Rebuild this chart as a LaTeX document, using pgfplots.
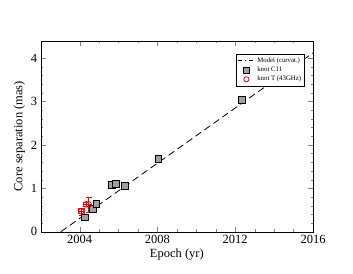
\documentclass[border=0pt]{standalone}
\usepackage{pgfplots}
\pgfplotsset{compat=1.18}
\usepackage{fontspec}
\setmainfont{Liberation Serif}
\begin{document}
\begin{tikzpicture}
\useasboundingbox (-40.7pt,-41.3pt) rectangle (312.3pt,231.7pt);
\begin{axis}[
  at={(0pt,0pt)}, anchor=south west,
  scale only axis, width=272.3pt, height=191pt,
  xmin=2002, xmax=2016, ymin=0, ymax=4.4,
  xtick={2004,2008,2012,2016}, ytick={0,1,2,3,4},
  minor x tick num=3, minor y tick num=4,
  tick align=inside, xtick pos=both, ytick pos=both,
  major tick length=5pt, minor tick length=2.5pt,
  /pgf/number format/assume math mode=true,
  xticklabel style={/pgf/number format/1000 sep={}},
  ticklabel style={font=\fontsize{12.5}{13}\selectfont},
  xlabel={Epoch (yr)}, ylabel={Core separation (mas)},
  label style={font=\fontsize{12.5}{14}\selectfont},
  xlabel style={yshift=2pt}, ylabel style={yshift=-1pt},
  legend style={at={(0.97,0.93)}, anchor=north east, font=\fontsize{6.8}{7.5}\selectfont,
     draw=black, line width=0.4pt, inner sep=1.5pt, row sep=-1pt},
  legend cell align=left,
]
\addplot[black, dash pattern=on 7pt off 4pt, line width=0.8pt, forget plot] coordinates {(2003.04,0) (2016,4.12)};
\addplot[only marks, mark=square*, mark size=3.4pt, mark options={fill=gray!75, draw=black, line width=0.8pt}, forget plot,
  error bars/.cd, y dir=both, y explicit, error bar style={white, line width=0.4pt}, error mark options={draw=none}]
  coordinates {
  (2004.28,0.33) +- (0,0.03)
  (2004.67,0.52) +- (0,0.03)
  (2004.86,0.64) +- (0,0.03)
  (2005.65,1.07) +- (0,0.03)
  (2005.87,1.10) +- (0,0.03)
  (2006.33,1.06) +- (0,0.03)
  (2008.05,1.68) +- (0,0.03)
  (2012.35,3.03) +- (0,0.03)
};
\addplot[only marks, mark=o, red, mark size=2.8pt, mark options={line width=0.8pt}, forget plot,
  error bars/.cd, y dir=both, y explicit, x dir=both, x explicit, error bar style={red, line width=0.5pt}]
  coordinates {
  (2004.09,0.47) +- (0.15,0.08)
  (2004.33,0.63) +- (0.0,0.05)
  (2004.47,0.63) +- (0.0,0.17)
};
\addlegendimage{black, dash pattern=on 4pt off 3pt on 1pt off 3pt, line width=0.8pt}
\addlegendentry{Model (curvat.)}
\addlegendimage{only marks, mark=square*, mark size=3pt, mark options={fill=gray!75, draw=black, line width=0.8pt}}
\addlegendentry{knot C11}
\addlegendimage{only marks, mark=o, red, mark size=2.6pt, mark options={line width=0.8pt}}
\addlegendentry{knot T (43GHz)}
\end{axis}
\end{tikzpicture}
\end{document}
